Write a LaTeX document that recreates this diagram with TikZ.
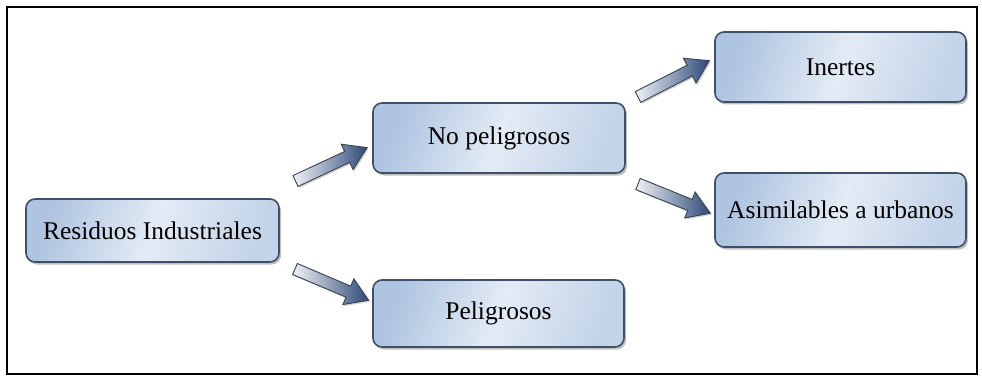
\documentclass[tikz,border=0pt]{standalone}
\usepackage{fontspec}
\setmainfont{Liberation Serif}
\newfontfamily\boxfont{Liberation Serif}
\usetikzlibrary{shadows}
\definecolor{boxline}{HTML}{3E5068}
\definecolor{boxdark}{HTML}{AFC4E0}
\definecolor{boxlight}{HTML}{E3EBF5}
\definecolor{arrdark}{HTML}{2E4A78}
\definecolor{arrlight}{HTML}{F0F2F6}
\definecolor{arrline}{HTML}{3A4250}
\tikzset{
  catbox/.style={draw=boxline, line width=1.6pt, rounded corners=9pt,
    left color=boxdark, right color=boxdark!60!boxlight, middle color=boxlight,
    shading angle=70,
    drop shadow={shadow xshift=2pt, shadow yshift=-2.5pt, opacity=0.35, fill=black!70},
    inner sep=0pt, align=center, font=\boxfont\fontsize{25.5}{30}\selectfont},
  blockarr/.style={draw=arrline, line width=0.9pt, left color=arrlight, right color=arrdark,
    drop shadow={shadow xshift=1.5pt, shadow yshift=-1.5pt, opacity=0.25, fill=black!70}},
  frame/.style={draw=black, line width=1.8pt}
}
\newcommand\myarrow[3]{%
  \begin{scope}[shift={#1}, rotate=#2]
    \path[blockarr] (0,-6) -- (#3-22,-6) -- (#3-22,-14) -- (#3,0)
      -- (#3-22,14) -- (#3-22,6) -- (0,6) -- cycle;
  \end{scope}}
\begin{document}
\begin{tikzpicture}[x=1pt, y=-1pt]
\useasboundingbox (0,0) rectangle (982,377);
\fill[white] (0,0) rectangle (982,377);
\draw[frame] (7,7) rectangle (977,374);

\node[catbox, minimum width=253pt, minimum height=63pt] (res) at (152.5,230.5) {Residuos Industriales};
\node[catbox, minimum width=252pt, minimum height=70pt] (nop) at (499,138) {No peligrosos};
\node[catbox, minimum width=251pt, minimum height=67pt] (pel) at (498.5,313.5) {Peligrosos};
\node[catbox, minimum width=251pt, minimum height=70pt] (ine) at (840.5,67) {Inertes};
\node[catbox, minimum width=251pt, minimum height=74pt] (asi) at (840.5,210) {Asimilables a urbanos};

\myarrow{(295.5,181)}{25}{79}
\myarrow{(295,269)}{-23}{80}
\myarrow{(638,97)}{27}{80}
\myarrow{(638,184)}{-22}{78}
\end{tikzpicture}
\end{document}
